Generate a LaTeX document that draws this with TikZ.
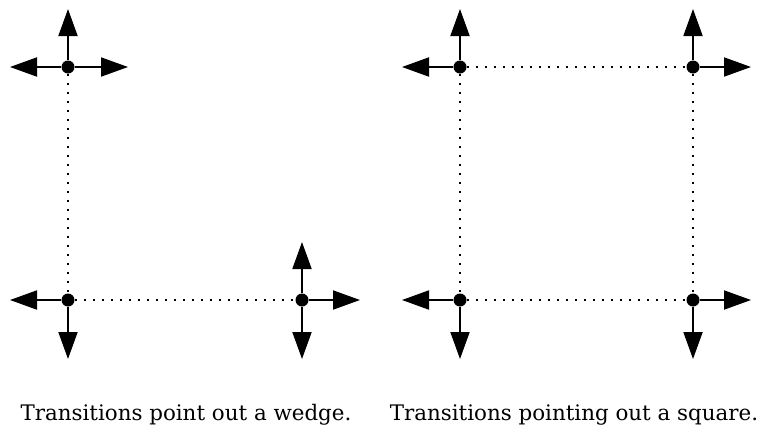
\documentclass[tikz,border=0pt]{standalone}
\usepackage{fontspec}
\setmainfont{DejaVu Serif}
\usetikzlibrary{arrows.meta}
\tikzset{
  state/.style={circle,fill=black,inner sep=0pt,minimum size=13pt},
  trans/.style={line width=1.9pt,-{Triangle[length=27pt,width=19pt]}},
  link/.style={line width=1.6pt,dash pattern=on 2pt off 7pt},
  caption/.style={font=\fontsize{21.4}{25}\selectfont,inner sep=0pt,anchor=base}
}
\begin{document}
\begin{tikzpicture}[x=1pt,y=-1pt]
\useasboundingbox (0,0) rectangle (762,432);
% left figure
\node[state] (a) at (68,67) {};
\node[state] (b) at (68,300) {};
\node[state] (c) at (302,300) {};
\coordinate (a1) at (68,9);
\coordinate (a2) at (10,67);
\coordinate (a3) at (128,67);
\coordinate (b1) at (10,300);
\coordinate (b2) at (68,359);
\coordinate (c1) at (302,242);
\coordinate (c2) at (360,300);
\coordinate (c3) at (302,359);
\draw[link] (a) -- (b);
\draw[link] (b) -- (c);
\draw[trans] (a) -- (a1);
\draw[trans] (a) -- (a2);
\draw[trans] (a) -- (a3);
\draw[trans] (b) -- (b1);
\draw[trans] (b) -- (b2);
\draw[trans] (c) -- (c1);
\draw[trans] (c) -- (c2);
\draw[trans] (c) -- (c3);
% right figure
\node[state] (p) at (460,67) {};
\node[state] (q) at (693,67) {};
\node[state] (r) at (460,300) {};
\node[state] (s) at (693,300) {};
\coordinate (p1) at (460,9);
\coordinate (p2) at (402,67);
\coordinate (q1) at (693,9);
\coordinate (q2) at (751,67);
\coordinate (r1) at (402,300);
\coordinate (r2) at (460,359);
\coordinate (s1) at (751,300);
\coordinate (s2) at (693,359);
\draw[link] (p) -- (q);
\draw[link] (p) -- (r);
\draw[link] (q) -- (s);
\draw[link] (r) -- (s);
\draw[trans] (p) -- (p1);
\draw[trans] (p) -- (p2);
\draw[trans] (q) -- (q1);
\draw[trans] (q) -- (q2);
\draw[trans] (r) -- (r1);
\draw[trans] (r) -- (r2);
\draw[trans] (s) -- (s1);
\draw[trans] (s) -- (s2);
% captions
\node[caption] (t1) at (186,420) {Transitions point out a wedge.};
\node[caption] (t2) at (574,420) {Transitions pointing out a square.};
\end{tikzpicture}
\end{document}
